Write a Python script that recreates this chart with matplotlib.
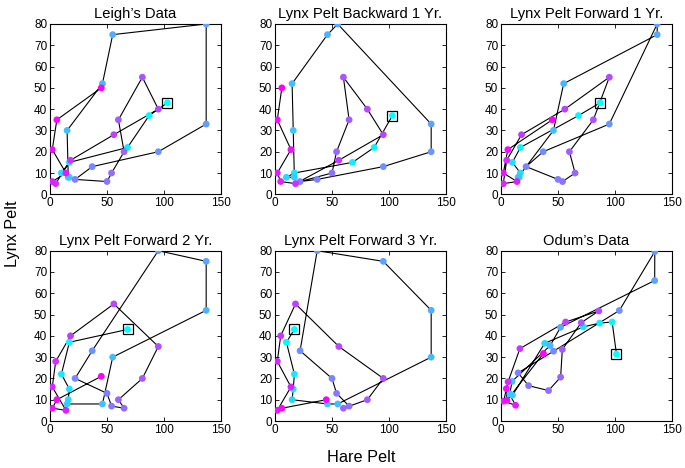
import numpy as np
import matplotlib
matplotlib.use("Agg")
import matplotlib.pyplot as plt

plt.rcParams['font.family'] = ['Liberation Sans', 'DejaVu Sans']

# Leigh's data (thousands of pelts), in time order
leigh_hare = [103, 87, 68, 17, 10, 17, 16, 15, 46, 55, 137, 137, 95, 37, 22,
              50, 54, 65, 60, 81, 95, 56, 18, 5, 2, 14, 2, 6, 45]
leigh_lynx = [43, 37, 22, 15, 10, 8, 8, 30, 52, 75, 80, 33, 20, 13, 7,
              6, 10, 20, 35, 55, 40, 28, 16, 5, 6, 10, 21, 35, 50]

# Odum's data
odum_hare = [101.3, 97.5, 86.5, 72.2, 38.3, 10.1, 7.7, 9.7, 43.1, 52.2, 134.8,
             134.9, 103.8, 46.1, 15.0, 24.2, 41.7, 52.3, 53.8, 70.4, 85.8,
             56.7, 16.6, 6.2, 2.3, 12.8, 4.7, 5.2, 37.2]
odum_lynx = [31.4, 46.5, 46.0, 44.2, 36.5, 12.1, 12.8, 18.6, 35.4, 44.0, 66.0,
             79.6, 51.9, 32.8, 22.6, 16.6, 14.3, 20.6, 33.6, 46.2, 51.7,
             46.5, 34.0, 18.4, 9.3, 7.4, 15.2, 9.7, 31.7]

titles = ["Leigh\u2019s Data", "Lynx Pelt Backward 1 Yr.", "Lynx Pelt Forward 1 Yr.",
          "Lynx Pelt Forward 2 Yr.", "Lynx Pelt Forward 3 Yr.", "Odum\u2019s Data"]
# hare shift relative to lynx (positive: hare leads); -1 means lynx shifted forward
shifts = [0, -1, 1, 2, 3, 0]
x_ticks = [0, 50, 100, 150]
y_ticks = [0, 10, 20, 30, 40, 50, 60, 70, 80]

W, H = 685, 468
fig = plt.figure(figsize=(W / 100, H / 100), dpi=100)

lefts = [50, 275, 501]
tops = [24, 250.7]
aw, ah = 171, 170.3

def series(i):
    if i == 5:
        return np.array(odum_hare), np.array(odum_lynx)
    h = np.array(leigh_hare, float)
    l = np.array(leigh_lynx, float)
    s = shifts[i]
    if s == 0:
        return h, l
    if s < 0:
        k = -s
        return h[:-k], l[k:]
    return h[s:], l[:-s]

cmap = plt.get_cmap('cool')
for i in range(6):
    r, c = divmod(i, 3)
    left = lefts[c] / W
    bottom = 1 - (tops[r] + ah) / H
    ax = fig.add_axes([left, bottom, aw / W, ah / H])
    x, y = series(i)
    n = len(x)
    cols = cmap(np.linspace(0, 1, n))
    ax.plot(x, y, color='black', lw=0.8, zorder=2)
    ax.plot(x[0], y[0], marker='s', ms=7.5, mfc='none', mec='black', mew=0.9, zorder=3)
    ax.scatter(x, y, s=24, c=cols, edgecolors='none', zorder=4)
    ax.set_xlim(0, 150)
    ax.set_ylim(0, 80)
    ax.set_xticks(x_ticks)
    ax.set_yticks(y_ticks)
    ax.tick_params(direction='in', length=3, width=0.6, labelsize=8.5,
                   top=True, right=True, pad=2, colors='black')
    for sp in ax.spines.values():
        sp.set_linewidth(0.8)
    ax.set_title(titles[i], fontsize=10.6, pad=4)

fig.text(12 / W, 0.5, "Lynx Pelt", rotation=90, ha='center', va='center', fontsize=11.7)
fig.text(361 / W, 1 - 457 / H, "Hare Pelt", ha='center', va='center', fontsize=11.7)

fig.savefig("out.png", dpi=100)
